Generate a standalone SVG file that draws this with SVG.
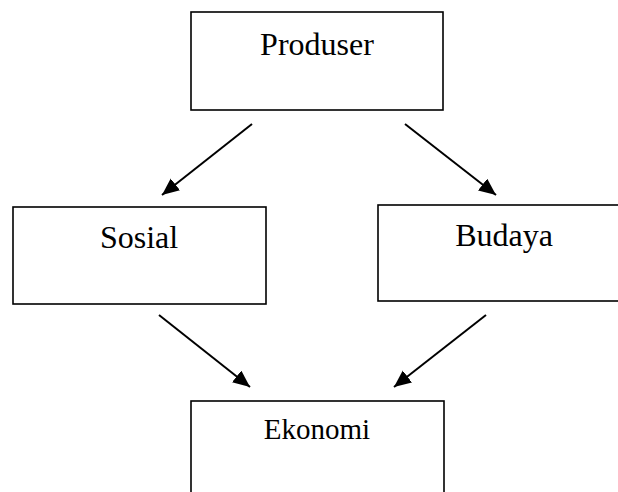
<svg xmlns="http://www.w3.org/2000/svg" width="618" height="492" viewBox="0 0 618 492">
<style>
.box{fill:#fff;stroke:#000;stroke-width:1.6}
.lbl{font-family:"Liberation Serif","Times New Roman",serif;font-size:32px;fill:#000;text-anchor:middle}
.con{stroke:#000;stroke-width:2;fill:none;marker-end:url(#ah)}
</style>
<defs>
<marker id="ah" markerUnits="userSpaceOnUse" markerWidth="18" markerHeight="16" refX="17" refY="7.5" orient="auto">
<path d="M0,0 L17,7.5 L0,15 z" fill="#000"/>
</marker>
</defs>
<rect width="618" height="492" fill="#fff"/>
<g id="produser">
<rect class="box" x="191" y="12" width="252" height="98"/>
<text class="lbl" x="317" y="55">Produser</text>
</g>
<g id="sosial">
<rect class="box" x="13" y="207" width="253" height="97"/>
<text class="lbl" x="139" y="248">Sosial</text>
</g>
<g id="budaya">
<rect class="box" x="378" y="205" width="260" height="96"/>
<text class="lbl" x="504" y="246">Budaya</text>
</g>
<g id="ekonomi">
<rect class="box" x="191" y="401" width="253" height="110"/>
<text class="lbl" x="317" y="439" style="font-size:29px">Ekonomi</text>
</g>
<g id="connectors">
<line class="con" x1="252" y1="124" x2="162" y2="195"/>
<line class="con" x1="405" y1="124" x2="496" y2="195"/>
<line class="con" x1="159" y1="315" x2="250" y2="387"/>
<line class="con" x1="486" y1="315" x2="394" y2="387"/>
</g>
</svg>
